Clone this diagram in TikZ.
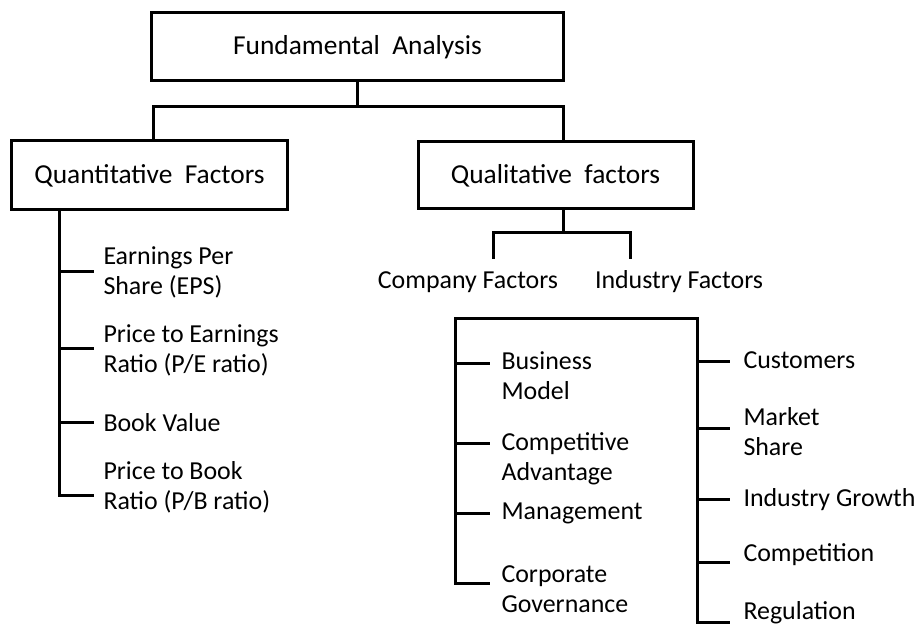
\documentclass[tikz,border=0pt]{standalone}
\usepackage{fontspec}
\setmainfont{Carlito}
\begin{document}
\begin{tikzpicture}[x=1bp,y=-1bp,
  line width=3bp, line cap=rect,
  boxnode/.style={draw, line width=3bp, inner sep=0pt, align=center,
    font=\fontsize{27.5}{32}\selectfont},
  item/.style={anchor=west, inner sep=0pt, align=left,
    font=\fontsize{26}{30}\selectfont},
  sub/.style={inner sep=0pt, font=\fontsize{26}{30}\selectfont}]
\useasboundingbox (0,0) rectangle (917,625);
% boxes
\node[boxnode, minimum width=411bp, minimum height=68bp] (fa) at (357.5,47) {Fundamental\ \ Analysis};
\node[boxnode, minimum width=275bp, minimum height=69bp] (quant) at (149.5,175.5) {Quantitative\ \ Factors};
\node[boxnode, minimum width=275bp, minimum height=67bp] (qual) at (555.5,175.5) {Qualitative\ \ factors};
% top bus
\coordinate (busL) at (153,107);
\coordinate (busR) at (563,107);
\draw (fa.south) -- (fa.south |- busL);
\draw (quant.north -| busL) -- (busL) -- (busR) -- (busR |- qual.north);
% qualitative split
\coordinate (qj) at (563,233);
\coordinate (cdrop) at (493,257);
\coordinate (idrop) at (630,257);
\draw (qual.south -| qj) -- (qj);
\draw (cdrop) |- (qj) -| (idrop);
\node[sub] (cf) at (468,282) {Company Factors};
\node[sub] (if) at (679,282) {Industry Factors};
% quantitative list
\coordinate (qs) at (59,495);
\draw (quant.south -| qs) -- (qs) -- (92,495);
\coordinate (q1) at (92,271);
\coordinate (q2) at (92,348);
\coordinate (q3) at (92,422);
\draw (q1 -| qs) -- (q1);
\draw (q2 -| qs) -- (q2);
\draw (q3 -| qs) -- (q3);
\node[item] (eps) at (102,272) {Earnings Per\\Share (EPS)};
\node[item] (pe) at (102,350) {Price to Earnings\\Ratio (P/E ratio)};
\node[item] (bv) at (102,423) {Book Value};
\node[item] (pb) at (102,487) {Price to Book\\Ratio (P/B ratio)};
% company / industry box
\coordinate (cl) at (455,583);
\coordinate (ctl) at (455,318);
\coordinate (ctr) at (697,318);
\coordinate (cr) at (697,622);
\draw (cl) -- (ctl) -- (ctr) -- (cr);
\coordinate (c1) at (488,363);
\coordinate (c2) at (488,443);
\coordinate (c3) at (488,513);
\coordinate (c4) at (488,583);
\foreach \c in {c1,c2,c3,c4} \draw (\c -| cl) -- (\c);
\node[item] (bm) at (500,376) {Business\\Model};
\node[item] (ca) at (500,459) {Competitive\\Advantage};
\node[item] (mg) at (500,513) {Management};
\node[item] (cg) at (500,589) {Corporate\\Governance};
\coordinate (r1) at (728,361);
\coordinate (r2) at (728,428);
\coordinate (r3) at (728,499);
\coordinate (r4) at (728,562);
\coordinate (r5) at (728,622);
\foreach \c in {r1,r2,r3,r4,r5} \draw (\c -| cr) -- (\c);
\node[item] (cu) at (742,360) {Customers};
\node[item] (ms) at (742,432) {Market\\Share};
\node[item] (ig) at (742,500) {Industry Growth};
\node[item] (co) at (742,555) {Competition};
\node[item] (rg) at (742,613) {Regulation};
\end{tikzpicture}
\end{document}
